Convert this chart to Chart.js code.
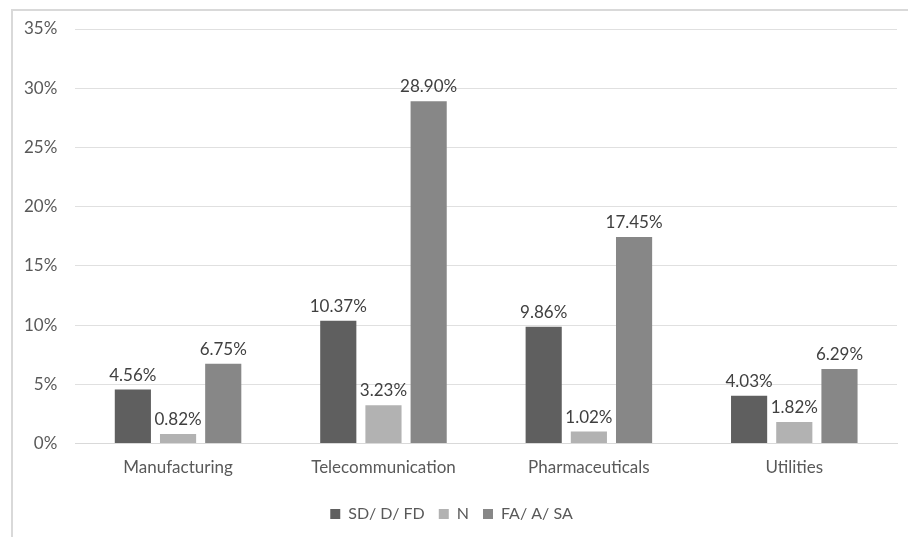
<!DOCTYPE html>
<html>
<head>
<meta charset="utf-8">
<script src="https://cdn.jsdelivr.net/npm/chart.js@4/dist/chart.umd.min.js"></script>
<style>
  html, body { margin: 0; padding: 0; background: #fff; }
  #wrap { position: relative; width: 908px; height: 537px; }
  #frame { position: absolute; left: 11px; top: 9px; right: 0; bottom: 0;
    border-left: 2px solid #d9d9d9; border-top: 2px solid #d9d9d9; }
  canvas { position: absolute; left: 0; top: 0; }
</style>
</head>
<body>
<div id="wrap">
  <div id="frame"></div>
  <canvas id="chart" width="908" height="537"></canvas>
</div>
<script>
const categories = ['Manufacturing', 'Telecommunication', 'Pharmaceuticals', 'Utilities'];
const seriesNames = ['SD/ D/ FD', 'N', 'FA/ A/ SA'];
const sdValues = [4.56, 10.37, 9.86, 4.03];
const nValues = [0.82, 3.23, 1.02, 1.82];
const faValues = [6.75, 28.90, 17.45, 6.29];
const seriesColors = ['#5f5f5f', '#b2b2b2', '#878787'];

const FONT = 'Lato, "Liberation Sans", sans-serif';

const barLabels = {
  id: 'barLabels',
  afterDatasetsDraw(chart) {
    const ctx = chart.ctx;
    ctx.save();
    ctx.font = '17px ' + FONT;
    ctx.fillStyle = '#404040';
    ctx.textAlign = 'center';
    ctx.textBaseline = 'bottom';
    chart.data.datasets.forEach((ds, i) => {
      chart.getDatasetMeta(i).data.forEach((bar, j) => {
        ctx.fillText(ds.data[j].toFixed(2) + '%', bar.x, bar.y - 6);
      });
    });
    ctx.restore();
  },
};

new Chart(document.getElementById('chart'), {
  type: 'bar',
  data: {
    labels: categories,
    datasets: [sdValues, nValues, faValues].map((vals, i) => ({
      label: seriesNames[i],
      data: vals,
      backgroundColor: seriesColors[i],
      categoryPercentage: 0.66,
      barPercentage: 0.8,
    })),
  },
  options: {
    responsive: false,
    animation: false,
    layout: { padding: { left: 6, top: 29, right: 11, bottom: 5 } },
    plugins: {
      legend: {
        position: 'bottom',
        labels: {
          boxWidth: 10,
          boxHeight: 10,
          font: { family: FONT, size: 16 },
          color: '#595959',
          padding: 14,
        },
      },
      tooltip: { enabled: false },
    },
    scales: {
      x: {
        grid: { display: false, drawTicks: false },
        border: { color: '#d9d9d9' },
        ticks: { font: { family: FONT, size: 17 }, color: '#595959', padding: 14 },
      },
      y: {
        min: 0,
        max: 35,
        grid: { color: '#e0e0e0', drawTicks: false },
        border: { display: false },
        ticks: {
          stepSize: 5,
          padding: 18,
          font: { family: FONT, size: 17 },
          color: '#595959',
          callback: (v) => v + '%',
        },
      },
    },
  },
  plugins: [barLabels],
});
</script>
</body>
</html>
